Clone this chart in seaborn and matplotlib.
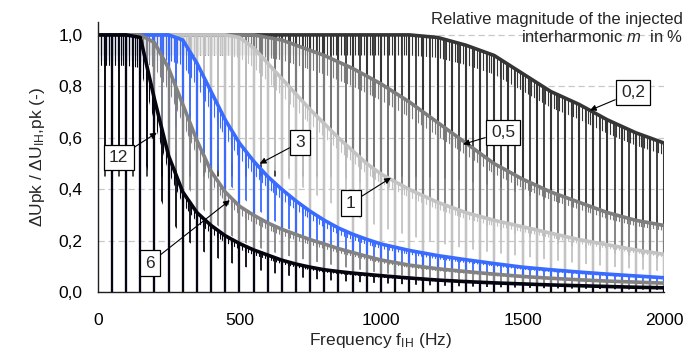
import matplotlib
matplotlib.use("Agg")
import matplotlib.pyplot as plt
import numpy as np
import pandas as pd
import seaborn as sns
from matplotlib.patches import Polygon
from matplotlib.ticker import FuncFormatter, MultipleLocator

# ------------------------------
# envelope of every curve (upper edge of each band)

FREQ_HZ = [0, 50, 100, 150, 200, 250, 300, 350, 400, 450, 500, 550, 600,
           650, 700, 750, 800, 850, 900, 950, 1000, 1100, 1200, 1300, 1400,
           1500, 1600, 1700, 1800, 1900, 2000]

ENV_M02 = [1, 1, 1, 1, 1, 1, 1, 1, 1, 1, 1, 1, 1, 1, 1, 1, 1, 1, 1, 1, 1,
           1, 0.99, 0.96, 0.92, 0.85, 0.78, 0.73, 0.67, 0.62, 0.58]
ENV_M05 = [1, 1, 1, 1, 1, 1, 1, 1, 1, 1, 1, 1, 0.99, 0.98, 0.96, 0.94, 0.92,
           0.895, 0.87, 0.84, 0.81, 0.74, 0.66, 0.58, 0.50, 0.44, 0.39, 0.35,
           0.31, 0.28, 0.26]
ENV_M1 = [1, 1, 1, 1, 1, 1, 1, 1, 1, 1, 0.99, 0.95, 0.89, 0.83, 0.77, 0.71,
          0.655, 0.60, 0.55, 0.50, 0.46, 0.40, 0.35, 0.31, 0.28, 0.255, 0.23,
          0.205, 0.185, 0.165, 0.148]
ENV_M3 = [1, 1, 1, 1, 1, 1, 0.98, 0.89, 0.78, 0.67, 0.58, 0.51, 0.45, 0.40,
          0.355, 0.315, 0.28, 0.25, 0.226, 0.206, 0.188, 0.163, 0.143, 0.127,
          0.112, 0.098, 0.088, 0.079, 0.071, 0.064, 0.057]
ENV_M6 = [1, 1, 1, 1, 0.97, 0.87, 0.73, 0.59, 0.47, 0.39, 0.335, 0.30, 0.27,
          0.245, 0.225, 0.205, 0.188, 0.17, 0.155, 0.14, 0.126, 0.106, 0.092,
          0.081, 0.071, 0.062, 0.055, 0.049, 0.044, 0.04, 0.036]
ENV_M12 = [1, 1, 1, 0.99, 0.75, 0.53, 0.39, 0.31, 0.26, 0.22, 0.19, 0.165,
           0.145, 0.125, 0.11, 0.098, 0.088, 0.081, 0.075, 0.07, 0.065, 0.056,
           0.048, 0.042, 0.037, 0.033, 0.029, 0.026, 0.023, 0.02, 0.018]

# dips of the curves: to zero at the harmonics, partial in between
HARMONIC_DIPS_HZ = np.arange(50, 2001, 50)
MID_DIPS_HZ = np.arange(25, 2000, 50)
FINE_DIPS_HZ = np.arange(10, 2000, 10)

CURVE_LABELS = ["0,2", "0,5", "1", "3", "6", "12"]
CURVE_ENVS = [ENV_M02, ENV_M05, ENV_M1, ENV_M3, ENV_M6, ENV_M12]
MID_DEPTH = [0.55, 0.5, 0.45, 0.35, 0.4, 0.45]
FINE_DEPTH = [0.08, 0.08, 0.08, 0.10, 0.10, 0.12]

# label box centre (f, value) and arrow tip (f, value)
LABEL_POS = [(1890, 0.777), (1431, 0.622), (894, 0.347), (714, 0.583),
             (184, 0.114), (74, 0.525)]
ARROW_TIP = [(1738, 0.707), (1290, 0.575), (1035, 0.445), (572, 0.50),
             (466, 0.358), (208, 0.62)]

# ------------------------------

COLORS = ["#353535", "#7d7d7d", "#c3c3c3", "#3a6bff", "#828282", "#050510"]
GRID = "#c8c8c8"

sns.set_style("white")
plt.rcParams["font.family"] = ["Liberation Sans", "DejaVu Sans"]
plt.rcParams["mathtext.fontset"] = "custom"
plt.rcParams["mathtext.rm"] = "Liberation Sans"
plt.rcParams["mathtext.it"] = "Liberation Sans:italic"

DPI = 100
FIGSIZE = (699 / DPI, 361 / DPI)


def band_clip(ax, freq, low, high):
    verts = np.column_stack([np.r_[freq, freq[::-1]], np.r_[high, low[::-1]]])
    return Polygon(verts, closed=True, transform=ax.transData)


def main():
    fig = plt.figure(figsize=FIGSIZE, dpi=DPI)
    ax = fig.add_axes([0.140, 0.190, 0.810, 0.749])

    freq = np.array(FREQ_HZ, dtype=float)
    for lab, env, col, dmid, dfine in zip(CURVE_LABELS, CURVE_ENVS, COLORS,
                                          MID_DEPTH, FINE_DEPTH):
        env = np.array(env, dtype=float)
        layers = [
            (HARMONIC_DIPS_HZ, np.zeros_like(env), 1.5),
            (MID_DIPS_HZ, env * (1 - dmid), 1.3),
            (FINE_DIPS_HZ, env * (1 - dfine), 0.8),
        ]
        for dips, low, lw in layers:
            lc = ax.vlines(dips, 0, 1.05, colors=col, lw=lw)
            lc.set_clip_path(band_clip(ax, freq, low, env))
        df = pd.DataFrame({"f": freq, "v": env})
        sns.lineplot(data=df, x="f", y="v", color=col, lw=2.6, ax=ax)

    for lab, (bx, by), (tx, ty) in zip(CURVE_LABELS, LABEL_POS, ARROW_TIP):
        ax.annotate(
            lab, xy=(tx, ty), xytext=(bx, by), ha="center", va="center",
            fontsize=12.5, zorder=10,
            bbox=dict(boxstyle="square,pad=0.3", fc="white", ec="black", lw=0.9),
            arrowprops=dict(arrowstyle="-|>", color="black", lw=0.8,
                            mutation_scale=9, shrinkA=0, shrinkB=0),
        )

    ax.set_xlim(0, 2000)
    ax.set_ylim(0, 1.05)
    ax.xaxis.set_major_locator(MultipleLocator(500))
    ax.yaxis.set_major_locator(MultipleLocator(0.2))
    ax.yaxis.set_major_formatter(FuncFormatter(lambda v, p: f"{v:.1f}".replace(".", ",")))
    ax.yaxis.grid(True, color=GRID, ls=(0, (5, 3)), lw=0.9)
    ax.xaxis.grid(False)
    ax.set_axisbelow(True)
    for side in ["top", "right"]:
        ax.spines[side].set_visible(False)
    for side in ["left", "bottom"]:
        ax.spines[side].set_color("#202020")
        ax.spines[side].set_linewidth(1.0)
    ax.tick_params(axis="both", direction="out", length=6, width=1,
                   color="#202020", labelsize=12.5, labelcolor="black", pad=5)
    ax.tick_params(axis="x", pad=9)

    ax.set_xlabel(r"Frequency f$_\mathregular{IH}$ (Hz)", fontsize=12.5, labelpad=2)
    ax.set_ylabel(r"ΔUpk / ΔU$_\mathregular{IH}$,pk (-)", fontsize=12.5, labelpad=8)

    fig.text(0.977, 0.968,
             "Relative magnitude of the injected\ninterharmonic $m$  in %",
             ha="right", va="top", fontsize=12, linespacing=1.15)

    fig.savefig("out.png", dpi=DPI)
    plt.close(fig)


if __name__ == "__main__":
    main()
